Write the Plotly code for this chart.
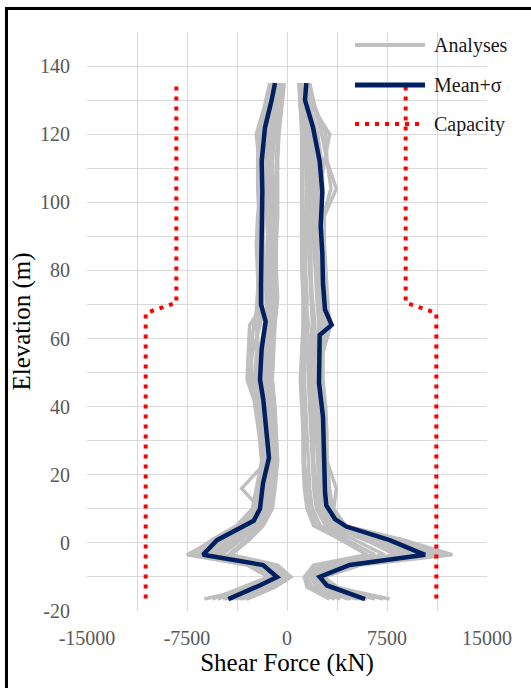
import plotly.graph_objects as go

# ---------------------------------------------------------------- data
# Elevations (m) shared by every individual analysis profile
analysis_elev = [135, 128, 120, 112, 104, 96, 88, 80, 72, 68, 64, 56, 48,
                 40, 32, 24, 16, 10, 5, 1, -3.5, -6.5, -10, -13, -16.5]

# Negative-side shear envelopes from the individual analyses (kN)
analyses_neg = [
    [-1100, -1500, -1900, -2000, -1900, -2000, -2100, -2000, -1900, -2000, -2200, -2300, -2400, -2000, -1700, -1600, -1900, -2200, -3200, -4800, -6600, -2400, -1000, -2400, -4600],
    [-800, -1200, -1500, -1600, -1500, -1700, -1800, -1700, -1600, -1500, -1700, -2000, -2100, -1800, -1500, -1300, -1600, -1900, -3000, -4200, -5800, -1800, -600, -1800, -4000],
    [-600, -900, -1200, -1300, -1400, -1300, -1500, -1500, -1400, -1300, -1500, -1700, -1800, -1500, -1300, -1200, -1400, -1600, -2600, -3800, -5300, -1500, -400, -1600, -3800],
    [-1300, -1700, -2300, -2100, -2000, -2200, -2300, -2200, -2100, -2100, -2800, -2900, -3000, -2300, -2000, -1800, -2100, -2400, -3600, -5400, -7500, -2900, -1300, -2800, -5200],
    [-400, -700, -900, -1100, -1000, -1100, -1200, -1100, -1100, -1100, -1300, -1400, -1500, -1300, -1100, -1000, -1200, -1400, -2200, -3400, -4900, -1200, -200, -1300, -3400],
    [-900, -1300, -1700, -1800, -1700, -1800, -2000, -1900, -1800, -1800, -2000, -2600, -2800, -2100, -1800, -1500, -1800, -2100, -3300, -5000, -6800, -2100, -800, -2100, -4800],
    [-300, -500, -700, -800, -800, -900, -1000, -900, -900, -900, -1100, -1200, -1300, -1100, -900, -800, -1000, -1200, -2000, -3000, -4400, -900, 100, -1000, -3100],
    [-1000, -1400, -1800, -1900, -2100, -1900, -1900, -1800, -2000, -1900, -2300, -2100, -2200, -1900, -1600, -1500, -3400, -2000, -3100, -4600, -6200, -2600, -1200, -2200, -6200],
    [-700, -1000, -1300, -1400, -1300, -1500, -1400, -1400, -1300, -1400, -1600, -1800, -1700, -1600, -1400, -1300, -1500, -1700, -2800, -4000, -5600, -1700, -500, -1700, -4200],
    [-500, -800, -1100, -1200, -1200, -1200, -1300, -1300, -1200, -1200, -1400, -1600, -1600, -1400, -1200, -1100, -1300, -1500, -2400, -3600, -5000, -1300, -300, -1400, -3600],
    [-1200, -1600, -2100, -2200, -2200, -2100, -2200, -2100, -2200, -2300, -2500, -2700, -2600, -2400, -2100, -1900, -2300, -2600, -3800, -5600, -7200, -3000, -1400, -3400, -5600],
    [-200, -400, -600, -700, -700, -700, -800, -800, -700, -800, -900, -1000, -1100, -900, -800, -700, -900, -1100, -1800, -2800, -4200, -700, 300, -900, -3000],
]

# Positive-side shear envelopes from the individual analyses (kN)
analyses_pos = [
    [1400, 1700, 2300, 2600, 2700, 2500, 2600, 2700, 2800, 2900, 3000, 2500, 2400, 2700, 2800, 2900, 3000, 3100, 3800, 8000, 10800, 4900, 2600, 3100, 6000],
    [1100, 1300, 1700, 2000, 2100, 2000, 2000, 2100, 2200, 2300, 2400, 2000, 1900, 2100, 2200, 2300, 2400, 2600, 3300, 6800, 9400, 4000, 2100, 2600, 5200],
    [900, 1100, 1400, 1600, 1700, 1600, 1600, 1700, 1800, 1800, 1900, 1600, 1600, 1700, 1800, 1900, 2000, 2200, 2900, 5800, 8200, 3300, 1800, 2200, 4600],
    [1700, 2100, 2900, 3000, 3700, 2800, 2800, 2900, 3000, 3100, 3300, 2700, 2700, 2900, 3000, 3000, 3700, 3500, 4400, 8600, 12400, 5500, 2800, 3600, 7700],
    [1000, 1200, 1300, 1400, 1500, 1400, 1400, 1400, 1500, 1500, 1600, 1400, 1300, 1400, 1500, 1600, 1700, 1900, 2500, 5000, 7300, 2800, 1500, 1900, 4000],
    [1300, 1600, 2100, 2300, 2400, 2300, 2300, 2400, 2500, 2600, 2700, 2300, 2200, 2400, 2500, 2600, 2700, 2900, 3600, 7400, 10000, 4400, 2300, 2900, 5600],
    [900, 1000, 1200, 1200, 1200, 1200, 1200, 1200, 1300, 1300, 1400, 1200, 1100, 1200, 1300, 1300, 1500, 1700, 2200, 4400, 6600, 2400, 1300, 1600, 3600],
    [1500, 1900, 3200, 2800, 2500, 2700, 2700, 2600, 2700, 3000, 3200, 2600, 2600, 2600, 2700, 2800, 2900, 3300, 4100, 8200, 11200, 5100, 2500, 3400, 6600],
    [1200, 1400, 1900, 2100, 2300, 2200, 2100, 2200, 2300, 2400, 2500, 2100, 2000, 2200, 2300, 2400, 2500, 2700, 3400, 7000, 9800, 4200, 2200, 2700, 5400],
    [1000, 1200, 1500, 1800, 1900, 1800, 1800, 1800, 1900, 2000, 2100, 1800, 1700, 1900, 2000, 2000, 2200, 2400, 3100, 6200, 8800, 3600, 1900, 2400, 4800],
    [1600, 2000, 2600, 3000, 3300, 2700, 2500, 2800, 2900, 2800, 2900, 2400, 2500, 2800, 2900, 3000, 3200, 3400, 4200, 8400, 11600, 5300, 2700, 3800, 7200],
    [900, 1000, 1100, 1100, 1100, 1100, 1100, 1100, 1200, 1200, 1200, 1100, 1000, 1100, 1200, 1200, 1300, 1500, 2000, 4000, 6000, 2000, 1300, 1500, 3200],
]

# Mean + one standard deviation, negative side
mean_neg_elev = [135, 130, 122, 112, 103, 93, 85, 76, 70, 65, 57, 48, 42, 32,
                 25, 17.5, 10, 6.5, 3, 0.8, -3.5, -6.5, -10, -12.5, -16.5]
mean_neg_val = [-900, -1150, -1650, -1900, -1850, -1900, -1975, -1950, -1950,
                -1600, -1900, -2025, -1775, -1525, -1350, -1800, -2025, -2500,
                -4200, -5250, -6300, -1800, -750, -2050, -4400]

# Mean + one standard deviation, positive side
mean_pos_elev = [135, 130, 122, 112, 103, 93, 85, 76, 68.5, 64, 61, 52, 47, 37,
                 29, 21, 15, 11, 7, 4.8, 0.8, -3.5, -6.5, -10, -12.5, -16.5]
mean_pos_val = [1450, 1350, 1950, 2450, 2650, 2525, 2650, 2700, 2850, 3350,
                2450, 2400, 2400, 2700, 2750, 2850, 2850, 2950, 3600, 4450,
                7700, 10350, 4700, 2450, 3000, 5850]

# Section shear capacity
cap_elev = [134, 70.5, 67.5, -16.5]
cap_neg = [-8300, -8300, -10600, -10600]
cap_pos = [8900, 8900, 11200, 11200]

# Axis ticks (gridlines every 3750 kN / 10 m, labels on alternate lines)
x_tickvals = [-15000, -11250, -7500, -3750, 0, 3750, 7500, 11250, 15000]
x_ticktext = ["-15000", "", "-7500", "", "0", "", "7500", "", "15000"]
y_tickvals = [-20, -10, 0, 10, 20, 30, 40, 50, 60, 70, 80, 90, 100, 110, 120, 130, 140, 150]
y_ticktext = ["-20", "", "0", "", "20", "", "40", "", "60", "", "80", "", "100", "", "120", "", "140", ""]

legend_items = ["Analyses", "Mean+σ", "Capacity"]

# ---------------------------------------------------------------- styles
GRAY = "#BFBFBF"
NAVY = "#002060"
RED = "#FF0000"
SERIF = "Liberation Serif, Times New Roman, serif"

fig = go.Figure()

for prof in analyses_neg + analyses_pos:
    fig.add_trace(go.Scatter(x=prof, y=analysis_elev, mode="lines",
                             line=dict(color=GRAY, width=3.5),
                             showlegend=False, hoverinfo="skip"))

for xs, ys in ((mean_neg_val, mean_neg_elev), (mean_pos_val, mean_pos_elev)):
    fig.add_trace(go.Scatter(x=xs, y=ys, mode="lines",
                             line=dict(color=NAVY, width=4.5),
                             showlegend=False))

for xs in (cap_neg, cap_pos):
    fig.add_trace(go.Scatter(x=xs, y=cap_elev, mode="lines",
                             line=dict(color=RED, width=4, dash="4px,6px"),
                             showlegend=False))

# ---------------------------------------------------------------- legend
legend_styles = [
    dict(color=GRAY, width=4),
    dict(color=NAVY, width=5),
    dict(color=RED, width=4, dash="4px,6px"),
]
legend_y = [0.9775, 0.9085, 0.8411]
for name, style, yy in zip(legend_items, legend_styles, legend_y):
    fig.add_shape(type="line", xref="paper", yref="paper",
                  x0=0.67, x1=0.845, y0=yy, y1=yy, line=style, layer="above")
    fig.add_annotation(text=name, xref="paper", yref="paper",
                       x=0.8625, y=yy, xanchor="left", yanchor="middle",
                       showarrow=False,
                       font=dict(family=SERIF, size=20, color="#1a1a1a"))

# outer frame of the figure
fig.add_shape(type="rect", xref="paper", yref="paper",
              x0=-0.2013, x1=1.12, y0=-0.15, y1=1.0406,
              line=dict(color="black", width=3), layer="above")

axis_common = dict(
    showgrid=True, gridcolor="#D9D9D9", gridwidth=1.3,
    zeroline=False, showline=False, ticks="",
    tickfont=dict(family=SERIF, size=20, color="#595959"),
)

fig.update_xaxes(range=[-15000, 15000], tickmode="array",
                 tickvals=x_tickvals, ticktext=x_ticktext,
                 ticklabelstandoff=13,
                 title=dict(text="Shear Force (kN)", standoff=5,
                            font=dict(family=SERIF, size=25, color="black")),
                 **axis_common)
fig.update_yaxes(range=[-20, 150], tickmode="array",
                 tickvals=y_tickvals, ticktext=y_ticktext,
                 ticklabelstandoff=16,
                 title=dict(text="Elevation (m)", standoff=2,
                            font=dict(family=SERIF, size=25, color="black")),
                 **axis_common)

fig.update_layout(
    width=531, height=688,
    margin=dict(l=87, r=44, t=32, b=77, autoexpand=False),
    paper_bgcolor="white", plot_bgcolor="white",
    showlegend=False,
)

fig.write_html("out.html")
